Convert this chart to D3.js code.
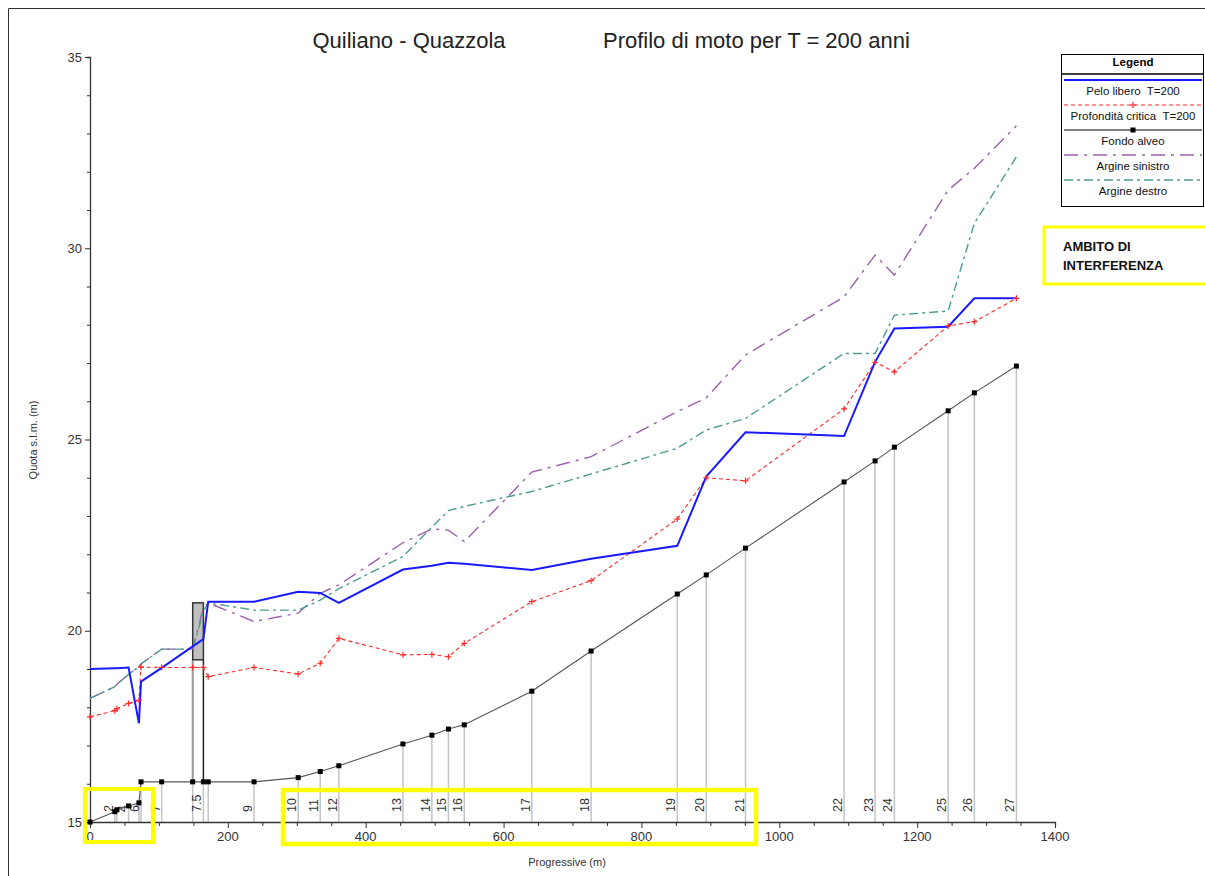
<!DOCTYPE html>
<html>
<head>
<meta charset="utf-8">
<script src="https://cdn.jsdelivr.net/npm/d3@7"></script>
<style>
  body { margin: 0; background: #fff; }
  svg { display: block; font-family: "Liberation Sans", Arial, sans-serif; }
  text { white-space: pre; }
</style>
</head>
<body>
<div id="chart"></div>
<script>
// stations along the channel (chainage in m) and their labels ("" = label hidden)
const stationLabels = ["", "2", "", "4", "", "6", "7", "", "7.5", "", "9", "10", "11", "12", "13", "14", "15", "16", "17", "18", "19", "20", "21", "22", "23", "24", "25", "26", "27"];
const chainage = [0, 36, 39, 56, 71, 74, 104, 149, 164.5, 171.5, 238, 302, 334, 361, 454, 496, 520, 543, 641, 727, 852, 894, 951, 1094, 1139, 1167, 1245, 1283, 1344];

// levels (m s.l.m.)
const fondoAlveo = [15.0, 15.27, 15.32, 15.42, 15.5, 16.05, 16.05, 16.05, 16.05, 16.05, 16.05, 16.16, 16.32, 16.47, 17.04, 17.27, 17.43, 17.54, 18.42, 19.47, 20.96, 21.46, 22.16, 23.89, 24.44, 24.8, 25.75, 26.22, 26.92];
const peloLibero = [19.0, 19.02, 19.02, 19.04, 17.58, 18.67, 19.03, 19.59, 19.78, 20.76, 20.76, 21.02, 20.99, 20.73, 21.6, 21.7, 21.78, 21.75, 21.59, 21.88, 22.22, 24.03, 25.19, 25.09, 27.03, 27.9, 27.95, 28.69, 28.69];
const profCritica = [17.75, 17.91, 17.96, 18.1, 18.18, 19.05, 19.04, 19.04, 19.04, 18.8, 19.04, 18.87, 19.15, 19.8, 19.37, 19.38, 19.32, 19.67, 20.76, 21.31, 22.92, 24.0, 23.92, 25.8, 27.02, 26.77, 27.97, 28.08, 28.69];
const argineSinistro = [18.23, 18.54, 18.6, 18.86, 19.06, 19.13, 19.52, 19.52, 20.6, 20.73, 20.24, 20.46, 20.98, 21.2, 22.3, 22.66, 22.63, 22.33, 24.15, 24.55, 25.73, 26.09, 27.21, 28.73, 29.82, 29.3, 31.52, 32.09, 33.2];
const argineDestro = [18.23, 18.54, 18.6, 18.86, 19.06, 19.13, 19.52, 19.52, 20.5, 20.73, 20.54, 20.54, 20.8, 21.1, 21.94, 22.71, 23.14, 23.25, 23.64, 24.1, 24.77, 25.25, 25.55, 27.25, 27.25, 28.25, 28.36, 30.65, 32.39];

// bridge deck (between the two faces of station 7.5)
const ponteDa = 149, ponteA = 164.5, ponteIntradosso = 19.24, ponteEstradosso = 20.73;

const legendItems = ["Pelo libero  T=200", "Profondità critica  T=200", "Fondo alveo", "Argine sinistro", "Argine destro"];

////////////////////////////////////////////////////////////////////////////////////

const width = 1205, height = 876;

const svg = d3.select("#chart").append("svg").attr("width", width).attr("height", height);

const x = d3.scaleLinear().domain([0, 1400]).range([90, 1055]);
const y = d3.scaleLinear().domain([15, 35]).range([822, 57]);

const rows = chainage.map((c, i) => ({
  c: c,
  label: stationLabels[i],
  bed: fondoAlveo[i],
  ws: peloLibero[i],
  crit: profCritica[i],
  sx: argineSinistro[i],
  dx: argineDestro[i]
}));

// page frame
svg.append("path").attr("d", "M8.5,876V8.5H1205").attr("fill", "none").attr("stroke", "#333").attr("stroke-width", 1);

////////////////////////////////////////////////////////////////////////////////////

// station verticals
svg.append("g")
  .selectAll("line")
  .data(rows.slice(1))
  .enter()
  .append("line")
  .attr("x1", (d) => x(d.c)).attr("x2", (d) => x(d.c))
  .attr("y1", (d) => y(d.bed)).attr("y2", y(15))
  .attr("stroke", "#c4c4c4")
  .attr("stroke-width", 1.5);

// station labels
svg.append("g")
  .selectAll("text")
  .data(rows.filter((d) => d.label !== ""))
  .enter()
  .append("text")
  .attr("transform", (d) => `translate(${x(d.c) - 2},812) rotate(-90)`)
  .attr("font-size", 12.5)
  .attr("fill", "#333")
  .text((d) => d.label);

// bridge
svg.append("line")
  .attr("x1", x(ponteDa)).attr("x2", x(ponteDa))
  .attr("y1", y(ponteIntradosso)).attr("y2", y(16.05))
  .attr("stroke", "#999").attr("stroke-width", 2);
svg.append("line")
  .attr("x1", x(ponteA)).attr("x2", x(ponteA))
  .attr("y1", y(ponteIntradosso)).attr("y2", y(16.05))
  .attr("stroke", "#222").attr("stroke-width", 1.5);
svg.append("rect")
  .attr("x", x(ponteDa)).attr("y", y(ponteEstradosso))
  .attr("width", x(ponteA) - x(ponteDa))
  .attr("height", y(ponteIntradosso) - y(ponteEstradosso))
  .attr("fill", "#c0c0c0").attr("stroke", "#333").attr("stroke-width", 1.5);

////////////////////////////////////////////////////////////////////////////////////

// axes
const yAxis = svg.append("g").attr("transform", `translate(${x(0)},0)`);
yAxis.call(d3.axisLeft(y).tickValues(d3.range(15, 35.1, 1)).tickSize(3).tickFormat(""));
yAxis.call((g) => g.selectAll(".tick").filter((d) => d % 5 === 0).select("line").attr("x2", -5));
yAxis.append("g").selectAll("text")
  .data([15, 20, 25, 30, 35])
  .enter()
  .append("text")
  .attr("x", -8).attr("y", (d) => y(d)).attr("dy", "0.35em")
  .attr("text-anchor", "end").attr("font-size", 13).attr("fill", "#333")
  .text((d) => d);

const xAxis = svg.append("g").attr("transform", `translate(0,${y(15)})`);
xAxis.call(d3.axisBottom(x).tickValues(d3.range(0, 1401, 50)).tickSize(4).tickFormat(""));
xAxis.call((g) => g.selectAll(".tick").filter((d) => d % 200 === 0).select("line").attr("y2", 6));
xAxis.append("g").selectAll("text")
  .data(d3.range(0, 1401, 200))
  .enter()
  .append("text")
  .attr("x", (d) => x(d)).attr("y", 19)
  .attr("text-anchor", "middle").attr("font-size", 13).attr("fill", "#333")
  .text((d) => d);
svg.selectAll(".domain").attr("stroke", "#333").attr("stroke-width", 1.3);
svg.selectAll(".tick line").attr("stroke", "#333");

svg.append("text")
  .attr("transform", `translate(37,440) rotate(-90)`)
  .attr("text-anchor", "middle").attr("font-size", 11).attr("fill", "#333")
  .text("Quota s.l.m. (m)");
svg.append("text")
  .attr("x", 567).attr("y", 866)
  .attr("text-anchor", "middle").attr("font-size", 11).attr("fill", "#333")
  .text("Progressive (m)");

// titles
svg.append("text").attr("x", 409).attr("y", 48).attr("text-anchor", "middle")
  .attr("font-size", 22).attr("fill", "#222").text("Quiliano - Quazzola");
svg.append("text").attr("x", 603).attr("y", 48)
  .attr("font-size", 22).attr("fill", "#222").text("Profilo di moto per T = 200 anni");

////////////////////////////////////////////////////////////////////////////////////

const series = [
  { key: "sx", color: "#9b62ac", width: 1.4, dash: "14,6,3,6" },
  { key: "dx", color: "#4f9c92", width: 1.4, dash: "9,4,3,4" },
  { key: "crit", color: "#ff2a2a", width: 1.1, dash: "4,3" },
  { key: "bed", color: "#555", width: 1.1, dash: null },
  { key: "ws", color: "#1a1aff", width: 2, dash: null }
];

series.forEach((s) => {
  const line = d3.line().x((d) => x(d.c)).y((d) => y(d[s.key]));
  svg.append("path")
    .datum(rows)
    .attr("d", line)
    .attr("fill", "none")
    .attr("stroke", s.color)
    .attr("stroke-width", s.width)
    .attr("stroke-dasharray", s.dash);
});

// critical depth markers
svg.append("g")
  .selectAll("path")
  .data(rows)
  .enter()
  .append("path")
  .attr("d", (d) => `M${x(d.c) - 3},${y(d.crit)}h6M${x(d.c)},${y(d.crit) - 3}v6`)
  .attr("stroke", "#ff2a2a").attr("stroke-width", 1.2);

// bed markers
svg.append("g")
  .selectAll("rect")
  .data(rows)
  .enter()
  .append("rect")
  .attr("x", (d) => x(d.c) - 2.5).attr("y", (d) => y(d.bed) - 2.5)
  .attr("width", 5).attr("height", 5)
  .attr("fill", "#000");

////////////////////////////////////////////////////////////////////////////////////

// legend
const legend = svg.append("g");
legend.append("rect").attr("x", 1061.5).attr("y", 54.5).attr("width", 142).attr("height", 152)
  .attr("fill", "#fff").attr("stroke", "#000").attr("stroke-width", 1);
legend.append("line").attr("x1", 1061.5).attr("x2", 1203.5).attr("y1", 74).attr("y2", 74)
  .attr("stroke", "#000").attr("stroke-width", 1.5);
legend.append("text").attr("x", 1133).attr("y", 66).attr("text-anchor", "middle")
  .attr("font-size", 11.5).attr("font-weight", "bold").text("Legend");

const legendStyle = [series[4], series[2], series[3], series[0], series[1]];
legendItems.forEach((label, i) => {
  const ly = 80 + i * 25;
  const s = legendStyle[i];
  legend.append("line").attr("x1", 1064).attr("x2", 1202).attr("y1", ly).attr("y2", ly)
    .attr("stroke", s.key === "bed" ? "#000" : s.color).attr("stroke-width", s.width)
    .attr("stroke-dasharray", s.dash);
  if (s.key === "crit") {
    legend.append("path").attr("d", `M1130,${ly}h6M1133,${ly - 3}v6`).attr("stroke", s.color).attr("stroke-width", 1.2);
  }
  if (s.key === "bed") {
    legend.append("rect").attr("x", 1130.5).attr("y", ly - 2.5).attr("width", 5).attr("height", 5).attr("fill", "#000");
  }
  legend.append("text").attr("x", 1133).attr("y", ly + 15).attr("text-anchor", "middle")
    .attr("font-size", 11.5).attr("fill", "#111").text(label);
});

////////////////////////////////////////////////////////////////////////////////////

// highlighted areas
const yellow = "#ffff00";
svg.append("rect").attr("x", 85).attr("y", 789).attr("width", 68).attr("height", 53)
  .attr("fill", "none").attr("stroke", yellow).attr("stroke-width", 4);
svg.append("rect").attr("x", 283).attr("y", 790).attr("width", 473).attr("height", 54)
  .attr("fill", "none").attr("stroke", yellow).attr("stroke-width", 4.5);
svg.append("rect").attr("x", 1044).attr("y", 227).attr("width", 170).attr("height", 57)
  .attr("fill", "none").attr("stroke", yellow).attr("stroke-width", 3);
svg.append("text").attr("x", 1063).attr("y", 251).attr("font-size", 13).attr("font-weight", "bold")
  .attr("fill", "#111").text("AMBITO DI");
svg.append("text").attr("x", 1063).attr("y", 270).attr("font-size", 13).attr("font-weight", "bold")
  .attr("fill", "#111").text("INTERFERENZA");
</script>
</body>
</html>
